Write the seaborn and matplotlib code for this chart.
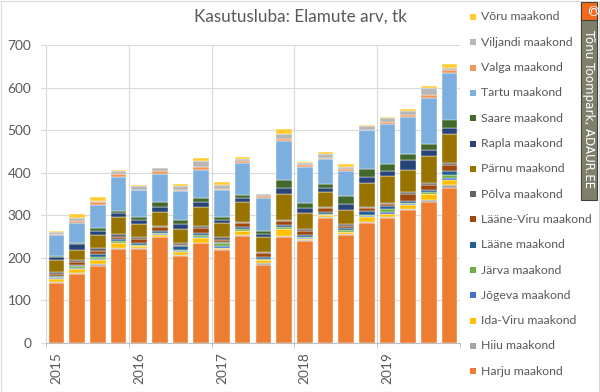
import numpy as np
import pandas as pd
import seaborn as sns
import matplotlib.pyplot as plt
from matplotlib.patches import Rectangle

# kvartalid 2015Q1 ... 2019Q4
years = ['2015', '2016', '2017', '2018', '2019']
quarters = list(range(20))

# maakonnad legendi järjekorras (ülevalt alla)
counties = ['Võru maakond', 'Viljandi maakond', 'Valga maakond', 'Tartu maakond',
            'Saare maakond', 'Rapla maakond', 'Pärnu maakond', 'Põlva maakond',
            'Lääne-Viru maakond', 'Lääne maakond', 'Järva maakond', 'Jõgeva maakond',
            'Ida-Viru maakond', 'Hiiu maakond', 'Harju maakond']

voru = [2, 8, 10, 3, 3, 1, 5, 6, 8, 3, 1, 10, 3, 4, 7, 3, 2, 5, 6, 9]
viljandi = [5, 7, 3, 8, 8, 6, 9, 15, 8, 6, 5, 12, 5, 9, 5, 8, 9, 8, 16, 5]
valga = [2, 6, 6, 5, 1, 8, 1, 6, 3, 5, 5, 5, 4, 2, 5, 1, 5, 5, 7, 7]
tartu = [49, 46, 56, 80, 64, 65, 70, 67, 63, 75, 77, 91, 84, 60, 58, 91, 94, 88, 108, 110]
saare = [4, 2, 6, 6, 5, 12, 8, 9, 6, 6, 6, 20, 12, 9, 19, 20, 18, 14, 14, 19]
rapla = [6, 14, 9, 8, 10, 13, 13, 12, 8, 10, 8, 13, 12, 9, 13, 12, 11, 23, 13, 14]
parnu = [29, 24, 31, 42, 32, 31, 32, 44, 34, 47, 35, 61, 38, 35, 34, 57, 62, 52, 64, 70]
polva = [4, 4, 6, 5, 3, 4, 4, 6, 5, 2, 2, 4, 3, 3, 4, 2, 3, 5, 6, 5]
laane_viru = [5, 7, 9, 6, 9, 8, 4, 11, 5, 9, 11, 9, 10, 9, 6, 9, 6, 15, 10, 13]
laane = [2, 4, 6, 5, 5, 6, 8, 5, 4, 6, 3, 5, 4, 4, 4, 8, 6, 5, 5, 9]
jarva = [3, 4, 4, 3, 3, 3, 4, 5, 5, 3, 3, 4, 4, 3, 4, 3, 8, 3, 4, 8]
jogeva = [2, 1, 2, 2, 1, 1, 1, 1, 5, 2, 1, 1, 1, 1, 1, 1, 3, 1, 1, 4]
ida_viru = [6, 10, 11, 10, 5, 5, 8, 11, 3, 9, 6, 15, 3, 5, 5, 12, 8, 10, 14, 12]
hiiu = [4, 2, 3, 4, 2, 1, 2, 2, 2, 2, 4, 2, 2, 2, 2, 3, 2, 3, 4, 6]
harju = [140, 163, 182, 220, 220, 248, 204, 234, 219, 251, 184, 250, 240, 293, 253, 282, 294, 312, 332, 365]

colors = ['#FFCD33', '#B7B7B7', '#F1975A', '#7CAFDD', '#43682B', '#264478', '#997300',
          '#636363', '#9E480E', '#255E91', '#70AD47', '#4472C4', '#FFC000', '#A5A5A5', '#ED7D31']

series = [voru, viljandi, valga, tartu, saare, rapla, parnu, polva,
          laane_viru, laane, jarva, jogeva, ida_viru, hiiu, harju]

df = pd.DataFrame([(q, c, v) for c, vals in zip(counties, series) for q, v in zip(quarters, vals)],
                  columns=['kvartal', 'maakond', 'arv'])

sns.set_style('white')
plt.rcParams['font.family'] = ['Lato', 'DejaVu Sans']
grey = '#595959'
gridc = '#D9D9D9'
W, H = 600, 392

fig = plt.figure(figsize=(6, 3.92), dpi=100)
ax = fig.add_axes([46 / W, 49 / H, 414 / W, 298 / H])

# histplot virnastab: esimene hue tase on ülal, viimane (Harju) all
sns.histplot(data=df, x='kvartal', weights='arv', hue='maakond', hue_order=counties,
             multiple='stack', discrete=True, shrink=0.75, palette=colors, alpha=1,
             edgecolor='white', linewidth=0.3, legend=False, ax=ax)

ax.set_xlim(-0.5, 19.5)
ax.set_ylim(0, 700)
ax.set_yticks(range(0, 701, 100))
ax.set_xticks([0, 4, 8, 12, 16])
ax.set_xticklabels(years, rotation=90, va='top', ha='center')
ax.set_xticks(np.arange(-0.5, 20, 4), minor=True)
ax.set_xlabel('')
ax.set_ylabel('')

ax.grid(axis='y', color=gridc, linewidth=0.8)
ax.grid(axis='x', which='minor', color=gridc, linewidth=0.8)
ax.set_axisbelow(True)
for s in ['top', 'right', 'left']:
    ax.spines[s].set_visible(False)
ax.spines['bottom'].set_color('#BFBFBF')
ax.tick_params(axis='y', length=3.6, color=gridc, pad=7, labelsize=9.9, labelcolor=grey, left=True)
ax.tick_params(axis='x', which='major', length=0, pad=6.5, labelsize=9.9, labelcolor=grey)
ax.tick_params(axis='x', which='minor', length=3.6, color='#BFBFBF', bottom=True)

fig.text(0.5, 1 - 17 / H, 'Kasutusluba: Elamute arv, tk', ha='center', va='center',
         fontsize=12.3, color=grey)

# legend: ruut + tekst, 25.3 px vahega
for i, (lab, c) in enumerate(zip(counties, colors)):
    yc = 17 + i * 25.3
    fig.patches.append(Rectangle((470 / W, 1 - (yc + 3) / H), 6 / W, 6 / H,
                                 transform=fig.transFigure, facecolor=c, edgecolor='none'))
    fig.text(481 / W, 1 - yc / H, lab, ha='left', va='center', fontsize=8.8, color=grey)

# autoriõiguse märk paremal
fig.patches.append(Rectangle((581 / W, 1 - 200 / H), 16 / W, 198 / H,
                             transform=fig.transFigure, facecolor='#7F7F6B',
                             edgecolor='#404040', linewidth=0.8))
fig.patches.append(Rectangle((581 / W, 1 - 20 / H), 16 / W, 18 / H,
                             transform=fig.transFigure, facecolor='#F26B1D',
                             edgecolor='#404040', linewidth=0.8))
fig.text(589 / W, 1 - 11 / H, '©', rotation=270, ha='center', va='center',
         fontsize=10, color='white', family=['DejaVu Sans'])
fig.text(589 / W, 1 - 109 / H, 'Tõnu Toompark, ADAUR.EE', rotation=270, ha='center',
         va='center', fontsize=8.6, color='white', family=['DejaVu Sans'])

fig.patches.append(Rectangle((0.001, 0.001), 0.997, 0.997, transform=fig.transFigure,
                             facecolor='none', edgecolor=gridc, linewidth=0.8))

fig.savefig('out.png', dpi=100)
